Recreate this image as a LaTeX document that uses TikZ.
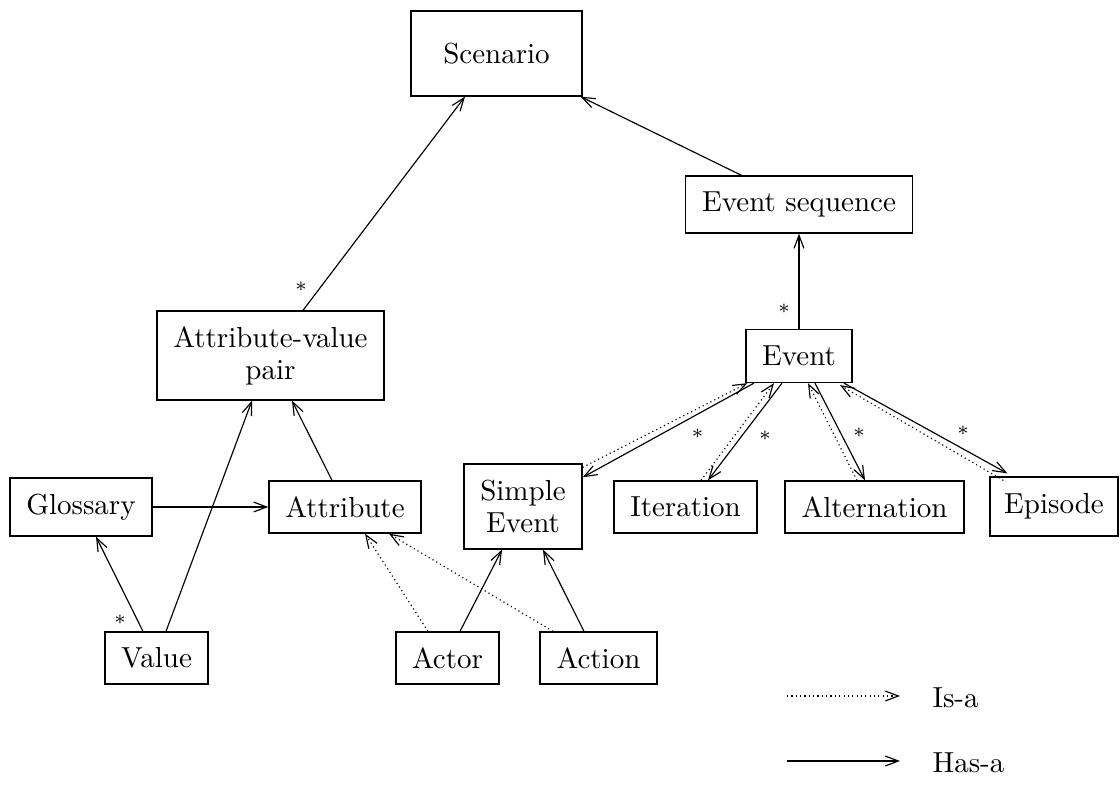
\documentclass[tikz,border=0pt]{standalone}
\usetikzlibrary{arrows.meta,calc}
\begin{document}
\begin{tikzpicture}[x=0.345pt,y=-0.345pt,
  box/.style 2 args={draw, line width=0.45pt, inner sep=0pt, align=center,
    minimum width=#1*0.345pt, minimum height=#2*0.345pt,
    font=\fontsize{10}{11}\selectfont},
  hasa/.style={line width=0.4pt, -{Straight Barb[length=4.5pt,width=3.4pt]}},
  isa/.style={hasa, dash pattern=on 0.4pt off 1.1pt},
  mult/.style={font=\scriptsize, inner sep=0pt},
  legendtext/.style={anchor=west, inner sep=0pt, font=\fontsize{10}{11}\selectfont}]
\useasboundingbox (0,0) rectangle (1120,789);

% classes
\node[box={171}{85}]  (sc)  at (496.5,53.5) {Scenario};
\node[box={227}{57}]  (es)  at (799,204.5)  {Event sequence};
\node[box={227}{89}]  (avp) at (270.5,355.5) {Attribute-value\\pair};
\node[box={106}{53}]  (ev)  at (799,356)    {Event};
\node[box={142}{58}]  (gl)  at (81,507)     {Glossary};
\node[box={152}{52}]  (at)  at (345,507)    {Attribute};
\node[box={118}{85}]  (se)  at (523,506.5)  {Simple\\Event};
\node[box={143}{52}]  (it)  at (685.5,507)  {Iteration};
\node[box={179}{52}]  (al)  at (874.5,507)  {Alternation};
\node[box={128}{59}]  (ep)  at (1054,506.5) {Episode};
\node[box={103}{52}]  (va)  at (156.5,658)  {Value};
\node[box={103}{52}]  (ac)  at (447.5,658)  {Actor};
\node[box={117}{52}]  (an)  at (598.5,658)  {Action};

% has-a relations
\draw[hasa] ($(avp.north)+(32.5,0)$) -- ($(sc.south)+(-31.5,0)$);
\draw[hasa] ($(es.north)+(-57.5,0)$) -- ($(sc.south east)+(-2,0)$);
\draw[hasa] (ev.north) -- (es.south);
\draw[hasa] ($(ev.south)+(-45,0)$) -- ($(se.north east)+(0,14)$);
\draw[hasa] ($(ev.south)+(-17,0)$) -- ($(it.north)+(22.5,0)$);
\draw[hasa] ($(ev.south)+(16,0)$) -- ($(al.north)+(-9.5,0)$);
\draw[hasa] ($(ev.south)+(45,0)$) -- ($(ep.north west)+(18,-3)$);
\draw[hasa] ($(at.north)+(-13,0)$) -- ($(avp.south)+(21.5,0)$);
\draw[hasa] ($(va.north)+(9.5,0)$) -- ($(avp.south)+(-18.5,0)$);
\draw[hasa] ($(va.north)+(-13.5,0)$) -- ($(gl.south)+(15,0)$);
\draw[hasa] (gl.east) -- (at.west);
\draw[hasa] ($(ac.north)+(12.5,0)$) -- ($(se.south)+(-21,0)$);
\draw[hasa] ($(an.north)+(-14.5,0)$) -- ($(se.south)+(20,0)$);

% is-a relations
\draw[isa] ($(se.north east)+(0,4)$) -- ($(ev.south west)+(2,0)$);
\draw[isa] ($(it.north)+(15.5,0)$) -- ($(ev.south)+(-25,0)$);
\draw[isa] ($(al.north)+(-17.5,0)$) -- ($(ev.south)+(9,0)$);
\draw[isa] ($(ep.north west)+(14,4)$) -- ($(ev.south)+(41,2)$);
\draw[isa] ($(ac.north)+(-19.5,0)$) -- ($(at.south)+(20,0)$);
\draw[isa] ($(an.north)+(-45.5,0)$) -- ($(at.south)+(44,0)$);

% multiplicities
\node[mult] at ($(avp.north)+(30.5,-24)$) {$*$};
\node[mult] at ($(ev.north)+(-15,-20)$) {$*$};
\node[mult] at ($(ev.south)+(-101.5,50.5)$) {$*$};
\node[mult] at ($(ev.south)+(-34,52.5)$) {$*$};
\node[mult] at ($(ev.south)+(60,49.5)$) {$*$};
\node[mult] at ($(ev.south)+(164,47.5)$) {$*$};
\node[mult] at ($(va.north)+(-36.5,-12)$) {$*$};

% legend
\coordinate (isaA) at (787,696);
\coordinate (isaB) at (900,696);
\coordinate (hasA) at (787,761);
\coordinate (hasB) at (900,761);
\draw[isa] (isaA) -- (isaB);
\draw[hasa] (hasA) -- (hasB);
\node[legendtext] (isaT) at (932,698) {Is-a};
\node[legendtext] (hasT) at (932,763) {Has-a};
\end{tikzpicture}
\end{document}
